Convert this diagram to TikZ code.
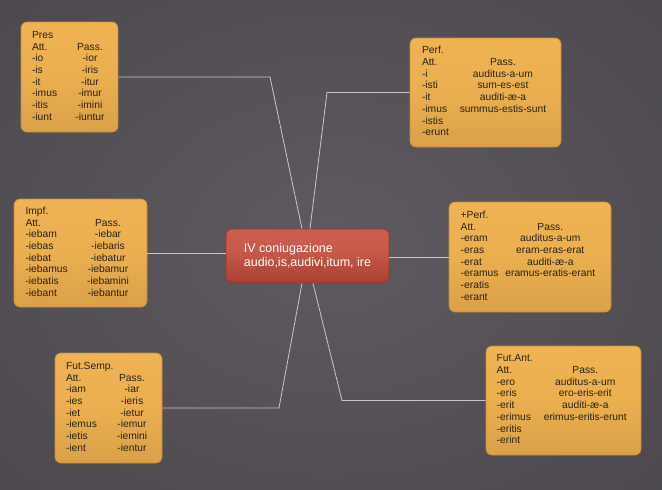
\documentclass[tikz,border=0pt]{standalone}
\usepackage{fontspec}
\setmainfont{Liberation Sans}
\usepackage{array}
\newcolumntype{Y}[1]{>{\centering\arraybackslash}p{#1}}
\newcolumntype{Z}[1]{>{\raggedright\arraybackslash}p{#1}}
\definecolor{bgin}{HTML}{5E5A60}
\definecolor{bgout}{HTML}{3A373D}
\definecolor{otop}{HTML}{F3B757}
\definecolor{omid}{HTML}{EBAF50}
\definecolor{oband}{HTML}{D39A45}
\definecolor{oedge}{HTML}{E4AA50}
\definecolor{oline}{HTML}{C48E3E}
\definecolor{rtop}{HTML}{D06252}
\definecolor{rmid}{HTML}{C85A4B}
\definecolor{rband}{HTML}{A33D31}
\definecolor{redge}{HTML}{C05345}
\definecolor{rline}{HTML}{983629}
\definecolor{connc}{HTML}{C9C5CB}
\definecolor{ink}{HTML}{2B2316}
\pgfdeclareverticalshading{oshade}{100bp}{color(0bp)=(oedge); color(6bp)=(oband); color(14bp)=(oband); color(50bp)=(omid); color(100bp)=(otop)}
\pgfdeclareverticalshading{rshade}{100bp}{color(0bp)=(redge); color(8bp)=(rband); color(22bp)=(rband); color(55bp)=(rmid); color(100bp)=(rtop)}
\tikzset{
  obox/.style={rounded corners=6pt, draw=oline, line width=0.6pt, shading=oshade,
    text=ink, font=\fontsize{10.3}{11.7}\selectfont, inner sep=0pt},
  cbox/.style={rounded corners=6pt, draw=rline, line width=0.6pt, shading=rshade,
    text=white, font=\fontsize{12.5}{14.5}\selectfont, align=left, inner sep=0pt},
  conn/.style={draw=connc, line width=0.8pt}
}
\begin{document}
\begin{tikzpicture}[x=1pt,y=-1pt]
\useasboundingbox (0,0) rectangle (662,490);
\begin{scope}
\clip (0,0) rectangle (662,490);
\shade[inner color=bgin, outer color=bgout] (-600,-450) rectangle (1262,940);
\end{scope}

\node[cbox, minimum width=163pt, minimum height=54pt] (c) at (307.5,256)
  {IV coniugazione\\audio,is,audivi,itum, ire};

\node[obox, minimum width=97pt, minimum height=110pt] (pres) at (69.5,77) {%
\begin{tabular}{@{}Z{41pt}@{}Y{34pt}@{}}
\multicolumn{2}{@{}l@{}}{Pres}\\
Att. & Pass.\\
-io & -ior\\
-is & -iris\\
-it & -itur\\
-imus & -imur\\
-itis & -imini\\
-iunt & -iuntur
\end{tabular}};

\node[obox, minimum width=151pt, minimum height=109pt] (perf) at (485.5,92.5) {%
\begin{tabular}{@{}Z{35pt}@{}Y{92pt}@{}}
\multicolumn{2}{@{}l@{}}{Perf.}\\
Att. & Pass.\\
-i & auditus-a-um\\
-isti & sum-es-est\\
-it & auditi-æ-a\\
-imus & summus-estis-sunt\\
-istis & \\
-erunt &
\end{tabular}};

\node[obox, minimum width=133pt, minimum height=108pt] (impf) at (80.5,253) {%
\begin{tabular}{@{}Z{55pt}@{}Y{55pt}@{}}
\multicolumn{2}{@{}l@{}}{Impf.}\\
Att. & Pass.\\
-iebam & -iebar\\
-iebas & -iebaris\\
-iebat & -iebatur\\
-iebamus & -iebamur\\
-iebatis & -iebamini\\
-iebant & -iebantur
\end{tabular}};

\node[obox, minimum width=162pt, minimum height=110pt] (pperf) at (530,257) {%
\begin{tabular}{@{}Z{40.6pt}@{}Y{98pt}@{}}
\multicolumn{2}{@{}l@{}}{+Perf.}\\
Att. & Pass.\\
-eram & auditus-a-um\\
-eras & eram-eras-erat\\
-erat & auditi-æ-a\\
-eramus & eramus-eratis-erant\\
-eratis & \\
-erant &
\end{tabular}};

\node[obox, minimum width=107pt, minimum height=110pt] (fs) at (108.5,408) {%
\begin{tabular}{@{}Z{47pt}@{}Y{38pt}@{}}
\multicolumn{2}{@{}l@{}}{Fut.Semp.}\\
Att. & Pass.\\
-iam & -iar\\
-ies & -ieris\\
-iet & -ietur\\
-iemus & -iemur\\
-ietis & -iemini\\
-ient & -ientur
\end{tabular}};

\node[obox, minimum width=155pt, minimum height=109pt] (fa) at (563.5,400.5) {%
\begin{tabular}{@{}Z{43.6pt}@{}Y{90pt}@{}}
\multicolumn{2}{@{}l@{}}{Fut.Ant.}\\
Att. & Pass.\\
-ero & auditus-a-um\\
-eris & ero-eris-erit\\
-erit & auditi-æ-a\\
-erimus & erimus-eritis-erunt\\
-eritis & \\
-erint &
\end{tabular}};

\coordinate (b1) at (270,77);
\coordinate (b2) at (327,92.5);
\coordinate (b3) at (279,408);
\coordinate (b4) at (342,400.5);

\draw[conn] (pres.east) -- (b1) -- ([xshift=-5.5pt]c.north);
\draw[conn] (perf.west) -- (b2) -- ([xshift=2.5pt]c.north);
\draw[conn] (impf.east) -- (impf.east -| c.west);
\draw[conn] (c.east |- pperf.west) -- (pperf.west);
\draw[conn] (fs.east) -- (b3) -- ([xshift=-5.5pt]c.south);
\draw[conn] ([xshift=5.5pt]c.south) -- (b4) -- (fa.west);
\end{tikzpicture}
\end{document}
